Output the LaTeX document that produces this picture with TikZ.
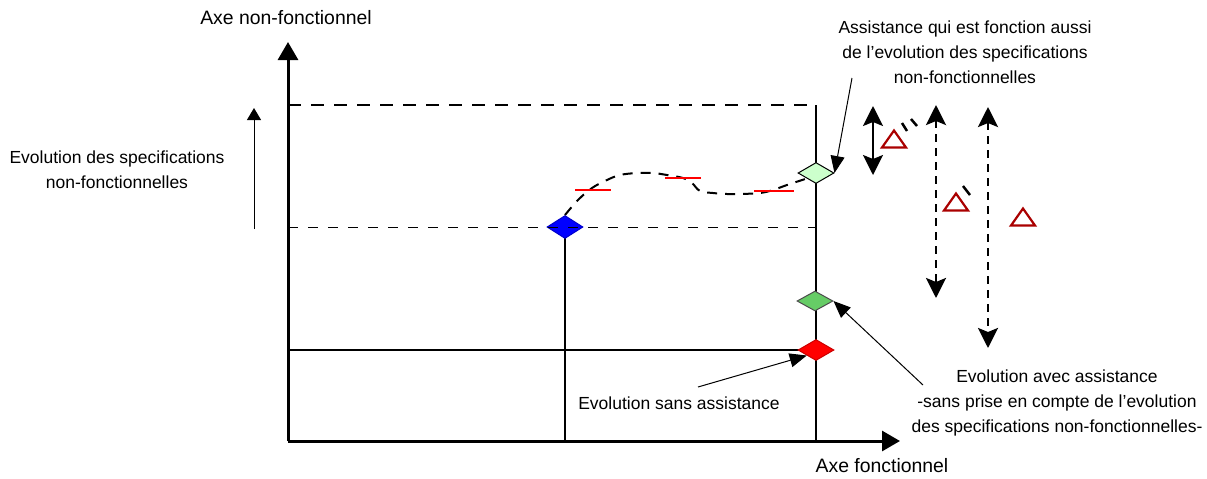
\documentclass[tikz,border=0pt]{standalone}
\usepackage{fontspec}
\setmainfont{Liberation Sans}
\usetikzlibrary{arrows.meta,shapes.geometric}
\definecolor{sombrerouge}{RGB}{170,0,0}
\definecolor{vertclair}{RGB}{204,255,204}
\definecolor{vertmoyen}{RGB}{102,204,102}
\tikzset{
  lbl/.style={font=\fontsize{8.75}{12.6}\selectfont, align=center, inner sep=0pt},
  axlbl/.style={font=\fontsize{9.7}{12}\selectfont, inner sep=0pt},
  axe/.style={line width=1.5pt, -{Triangle[length=9pt,width=10pt]}},
  etat/.style={diamond, draw, inner sep=0pt, minimum width=18pt, minimum height=10.5pt, line width=0.5pt},
  note/.style={line width=0.5pt, -{Triangle[length=8.5pt,width=7pt]}},
  double/.style={line width=1pt, {Stealth[length=10pt,width=10pt,inset=2pt]}-{Stealth[length=10pt,width=10pt,inset=2pt]}},
  tiret/.style={line width=1.4pt, dash pattern=on 4pt off 3pt},
  tri/.style={draw=sombrerouge, line width=1.1pt, fill=white}
}
\newcommand{\triangleat}[2]{\draw[tri] (#1-12,#2+8.5) -- (#1+12,#2+8.5) -- (#1,#2-8.5) -- cycle;}

\begin{document}
\begin{tikzpicture}[x=0.5pt,y=-0.5pt]
\useasboundingbox (0,0) rectangle (1207,478);
\begin{scope}
\coordinate (O) at (288,441);
\coordinate (ytop) at (288,42);
\coordinate (xend) at (900,441);
\draw[axe] (O) -- (ytop);
\draw[axe] (O) -- (xend);
\node[axlbl] (ynom) at (286,18) {Axe non-fonctionnel};
\node[axlbl] (xnom) at (882,466) {Axe fonctionnel};

\draw[line width=1.1pt, dash pattern=on 6.5pt off 5pt] (288,105) -- (816,105);
\draw[line width=1pt] (816,105) -- (816,441);
\draw[line width=1pt] (288,350) -- (816,350);
\draw[line width=1pt] (565,227) -- (565,441);

\draw[line width=0.5pt, -{Triangle[length=6pt,width=7pt]}] (254,229) -- (254,108);
\node[lbl] (evspec) at (117,170) {Evolution des specifications\\non-fonctionnelles};

\node[etat, fill=blue, draw=blue!80!black, minimum height=11.5pt] (bleu) at (565,227) {};
\draw[line width=0.5pt, dash pattern=on 5pt off 5pt] (288,227) -- (816,227);
\node[etat, fill=vertclair] (vert) at (816,173) {};
\node[etat, fill=vertmoyen, draw=black!70, minimum height=10pt] (vertf) at (815,301) {};
\node[etat, fill=red, draw=red!80!black] (rouge) at (816,350) {};

\draw[line width=1pt, dash pattern=on 5pt off 4pt] plot[smooth, tension=0.6] coordinates {(bleu.north) (578,200) (592,188) (607,180) (620,175) (637,173) (653,173) (667,175) (683,178) (692,183) (700,191) (713,193) (727,194) (740,194) (760,193) (773,190) (787,185) (vert.south west)};
\draw[red, line width=1.25pt] (575,190) -- (611,190);
\draw[red, line width=1.25pt] (665,178) -- (701,178);
\draw[red, line width=1.25pt] (754,191) -- (794,191);

\draw[double] (873,106) -- (873,175);
\draw[double, tiret] (936,105) -- (936,298);
\draw[double, tiret] (988,107) -- (988,348);
\triangleat{894}{139}
\triangleat{956}{202}
\triangleat{1023}{217}
\draw[line width=1.25pt] (902,123) -- (907,131);
\draw[line width=1.25pt] (911,119) -- (917,126);
\draw[line width=1.25pt] (963,186) -- (970,195);

\node[lbl] (assist) at (965,52) {Assistance qui est fonction aussi\\de l’evolution des specifications\\non-fonctionnelles};
\node[lbl] (avec) at (1057,403) {Evolution avec assistance\\-sans prise en compte de l’evolution\\des specifications non-fonctionnelles-};
\node[lbl] (sans) at (679,403) {Evolution sans assistance};

\coordinate (a1) at (852,78);
\coordinate (a2) at (923,385);
\coordinate (a3) at (698,387);
\draw[note] (a1) -- (vert.east);
\draw[note] (a2) -- (vertf.east);
\draw[note] (a3) -- (rouge.south west);
\end{scope}
\end{tikzpicture}
\end{document}
